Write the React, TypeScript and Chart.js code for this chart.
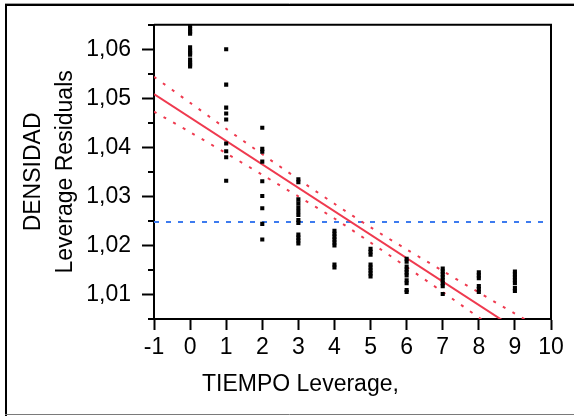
import { useEffect, useRef } from 'react';
import { Chart, registerables } from 'chart.js';

Chart.register(...registerables);

// TIEMPO columns (x positions of the leverage residual stacks)
const tiempoValues = [0, 1, 2, 3, 4, 5, 6, 7, 8, 9];

// DENSIDAD leverage residuals, one array per TIEMPO value
const residualsT0 = [1.0648, 1.0642, 1.0636, 1.0632, 1.0604, 1.0597, 1.0593, 1.0589, 1.0579, 1.0573, 1.0569, 1.0565];
const residualsT1 = [1.06, 1.0528, 1.0481, 1.0469, 1.0457, 1.0408, 1.0392, 1.038, 1.0332];
const residualsT2 = [1.044, 1.0397, 1.0391, 1.0371, 1.0331, 1.0301, 1.0276, 1.0244, 1.0212];
const residualsT3 = [1.0335, 1.0329, 1.0294, 1.0286, 1.0278, 1.027, 1.0262, 1.0252, 1.0246, 1.0222, 1.0216, 1.021, 1.0204];
const residualsT4 = [1.023, 1.0224, 1.0218, 1.0212, 1.0206, 1.02, 1.0161, 1.0155];
const residualsT5 = [1.0193, 1.0187, 1.0181, 1.0161, 1.0155, 1.0149, 1.0143, 1.0137];
const residualsT6 = [1.0173, 1.0167, 1.0157, 1.0151, 1.0145, 1.0139, 1.0129, 1.0123, 1.0109, 1.0105];
const residualsT7 = [1.0153, 1.0147, 1.0141, 1.0135, 1.0129, 1.0123, 1.0117, 1.0101];
const residualsT8 = [1.0145, 1.0139, 1.0133, 1.0117, 1.0111, 1.0105];
const residualsT9 = [1.0147, 1.0141, 1.0135, 1.0129, 1.0123, 1.0113, 1.0107];
const residualColumns = [residualsT0, residualsT1, residualsT2, residualsT3, residualsT4, residualsT5, residualsT6, residualsT7, residualsT8, residualsT9];

// Fitted line (end points)
const fitX = [-1, 10];
const fitY = [1.05086, 0.9983];

// Confidence curves, read at each integer TIEMPO
const bandX = [-1, 0, 1, 2, 3, 4, 5, 6, 7, 8, 9, 10];
const bandUpper = [1.0544, 1.0491, 1.0438, 1.0386, 1.0335, 1.0285, 1.0237, 1.0192, 1.0148, 1.0104, 1.0061, 1.0019];
const bandLower = [1.0473, 1.0431, 1.0388, 1.0344, 1.03, 1.0255, 1.0206, 1.0156, 1.0105, 1.0053, 1.0, 0.9947];

// Horizontal mean line
const meanX = [-1, 10];
const meanY = [1.0248, 1.0248];

// Axes
const xMin = -1;
const xMax = 10;
const yMin = 1.005;
const yMax = 1.065;
const yStep = 0.005;

const yTitleLines = ['DENSIDAD', 'Leverage Residuals'];
const xTitleText = 'TIEMPO Leverage,';

const FONT = "'Liberation Sans', Arial, Helvetica, sans-serif";
const RED = '#EF3A4F';
const BLUE = '#3D7BEF';

const isMajor = (v: number) => Math.abs(Math.round(v * 100) - v * 100) < 1e-6;

const decorPlugin = {
  id: 'decor',
  beforeDraw(chart: any) {
    const { ctx, width, height } = chart;
    ctx.save();
    ctx.fillStyle = '#ffffff';
    ctx.fillRect(0, 0, width, height);
    ctx.strokeStyle = '#a0a0a0';
    ctx.lineWidth = 1;
    ctx.beginPath();
    ctx.moveTo(5, 3.5);
    ctx.lineTo(width, 3.5);
    ctx.stroke();
    ctx.strokeStyle = '#000';
    ctx.lineWidth = 2;
    ctx.beginPath();
    ctx.moveTo(5, 5);
    ctx.lineTo(width, 5);
    ctx.moveTo(6, 4);
    ctx.lineTo(6, height);
    ctx.stroke();
    ctx.strokeStyle = '#7a7a7a';
    ctx.lineWidth = 1;
    ctx.beginPath();
    ctx.moveTo(5, 414.5);
    ctx.lineTo(width, 414.5);
    ctx.stroke();
    ctx.restore();
  },
  afterDraw(chart: any) {
    const { ctx, chartArea } = chart;
    const { left, right, top, bottom } = chartArea;
    ctx.save();
    ctx.strokeStyle = '#000';
    ctx.lineWidth = 2;
    ctx.beginPath();
    ctx.moveTo(left, top);
    ctx.lineTo(right, top);
    ctx.lineTo(right, bottom);
    ctx.stroke();
    // minor ticks on y
    const ys = chart.scales.y;
    ctx.beginPath();
    ys.ticks.forEach((t: any) => {
      if (!isMajor(t.value)) {
        const py = Math.round(ys.getPixelForValue(t.value));
        ctx.moveTo(left - 6, py);
        ctx.lineTo(left, py);
      }
    });
    ctx.stroke();
    // x title
    ctx.fillStyle = '#000';
    ctx.font = `23px ${FONT}`;
    ctx.textAlign = 'left';
    ctx.textBaseline = 'alphabetic';
    ctx.fillText(xTitleText, left + 48, bottom + 72);
    ctx.restore();
  },
};

export default function App() {
  const ref = useRef<HTMLCanvasElement | null>(null);

  useEffect(() => {
    if (!ref.current) return;
    const points: { x: number; y: number }[] = [];
    tiempoValues.forEach((t, i) => {
      residualColumns[i].forEach((v) => points.push({ x: t, y: v }));
    });
    const chart = new Chart(ref.current, {
      type: 'scatter',
      data: {
        datasets: [
          {
            type: 'scatter',
            data: points,
            pointStyle: 'rect',
            pointRadius: 2.9,
            pointBorderWidth: 0,
            pointBackgroundColor: '#000',
            borderColor: '#000',
          } as any,
          {
            type: 'line',
            data: fitX.map((x, i) => ({ x, y: fitY[i] })),
            borderColor: RED,
            borderWidth: 2,
            pointRadius: 0,
            fill: false,
          },
          {
            type: 'line',
            data: bandX.map((x, i) => ({ x, y: bandUpper[i] })),
            borderColor: RED,
            borderWidth: 2,
            borderDash: [3, 8],
            pointRadius: 0,
            tension: 0.3,
            fill: false,
          },
          {
            type: 'line',
            data: bandX.map((x, i) => ({ x, y: bandLower[i] })),
            borderColor: RED,
            borderWidth: 2,
            borderDash: [3, 8],
            pointRadius: 0,
            tension: 0.3,
            fill: false,
          },
          {
            type: 'line',
            data: meanX.map((x, i) => ({ x, y: meanY[i] })),
            borderColor: BLUE,
            borderWidth: 2,
            borderDash: [5, 7],
            pointRadius: 0,
            fill: false,
          },
        ],
      },
      options: {
        responsive: false,
        animation: false,
        events: [],
        layout: { padding: { left: 0, top: 22, right: 23, bottom: 0 } },
        plugins: { legend: { display: false }, tooltip: { enabled: false }, title: { display: false } },
        scales: {
          x: {
            type: 'linear',
            min: xMin,
            max: xMax,
            afterFit: (s: any) => {
              s.height = 97;
            },
            ticks: {
              stepSize: 1,
              autoSkip: false,
              maxRotation: 0,
              padding: 4,
              color: '#000',
              font: { family: FONT, size: 23 },
            },
            grid: {
              display: true,
              drawOnChartArea: false,
              drawTicks: true,
              tickLength: 11,
              tickWidth: 2,
              tickColor: '#000',
            },
            border: { display: true, color: '#000', width: 2 },
            title: { display: false },
          },
          y: {
            type: 'linear',
            min: yMin,
            max: yMax,
            afterFit: (s: any) => {
              s.width = 154;
            },
            ticks: {
              stepSize: yStep,
              autoSkip: false,
              padding: 11,
              color: '#000',
              font: { family: FONT, size: 23 },
              callback: (v: any) => (isMajor(Number(v)) ? Number(v).toFixed(2).replace('.', ',') : ''),
            },
            grid: {
              display: true,
              drawOnChartArea: false,
              drawTicks: true,
              tickLength: 12,
              tickWidth: 2,
              tickColor: (c: any) => (c.tick && isMajor(c.tick.value) ? '#000' : 'rgba(0,0,0,0)'),
            },
            border: { display: true, color: '#000', width: 2 },
            title: {
              display: true,
              text: yTitleLines,
              color: '#000',
              font: { family: FONT, size: 23, lineHeight: 1.4 },
              padding: { top: 17.5, bottom: 0 },
            },
          },
        },
      },
      plugins: [decorPlugin],
    } as any);
    return () => chart.destroy();
  }, []);

  return (
    <div style={{ position: 'fixed', left: 0, top: 0, width: 574, height: 416 }}>
      <canvas ref={ref} width={574} height={416} />
    </div>
  );
}
